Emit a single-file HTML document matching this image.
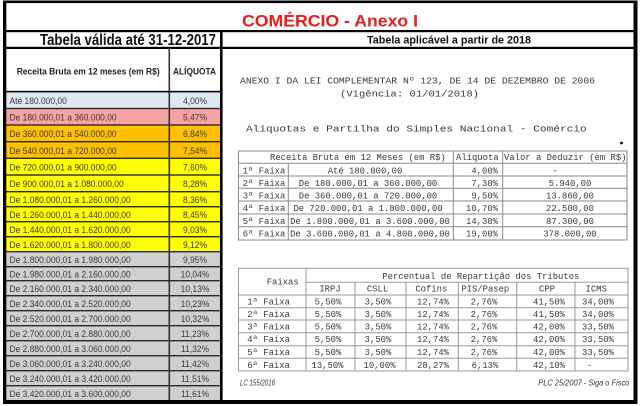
<!DOCTYPE html>
<html><head><meta charset="utf-8"><style>
html,body{margin:0;padding:0;background:#fff;}
body{width:640px;height:406px;overflow:hidden;}
svg{display:block;}
.s{font-family:"Liberation Sans",Arial,sans-serif;}
.m{font-family:"Liberation Mono","Courier New",monospace;font-size:8.9px;fill:#3a3a3a;}
.d{font-family:"Liberation Sans",Arial,sans-serif;font-size:9.3px;fill:#3a3a3a;}
</style></head><body>
<svg width="640" height="406" viewBox="0 0 640 406" xmlns="http://www.w3.org/2000/svg">
<rect x="0" y="0" width="640" height="406" fill="#fff"/>

<!-- left table row fills -->
<g>
<rect x="6" y="92" width="214" height="16.5" fill="#dde8f3"/>
<rect x="6" y="108.5" width="214" height="16.5" fill="#f5a3a5"/>
<rect x="6" y="125" width="214" height="16.7" fill="#ffc000"/>
<rect x="6" y="141.7" width="214" height="16.6" fill="#ffc000"/>
<rect x="6" y="158.3" width="214" height="93.4" fill="#ffff00"/>
<rect x="6" y="251.7" width="214" height="148.3" fill="#d0d0d0"/>
</g>

<!-- row lines -->
<g fill="#2a2a2a">
<rect x="6" y="107.8" width="214" height="1.4"/>
<rect x="6" y="124.3" width="214" height="1.4"/>
<rect x="6" y="141" width="214" height="1.4"/>
<rect x="6" y="157.6" width="214" height="1.4"/>
<rect x="6" y="174.3" width="214" height="1.4"/>
<rect x="6" y="191" width="214" height="1.4"/>
<rect x="6" y="206" width="214" height="1.4"/>
<rect x="6" y="221" width="214" height="1.4"/>
<rect x="6" y="236" width="214" height="1.4"/>
<rect x="6" y="251" width="214" height="1.4"/>
<rect x="6" y="266" width="214" height="1.4"/>
<rect x="6" y="280" width="214" height="1.4"/>
<rect x="6" y="295" width="214" height="1.4"/>
<rect x="6" y="310" width="214" height="1.4"/>
<rect x="6" y="325" width="214" height="1.4"/>
<rect x="6" y="340" width="214" height="1.4"/>
<rect x="6" y="355" width="214" height="1.4"/>
<rect x="6" y="370" width="214" height="1.4"/>
<rect x="6" y="385" width="214" height="1.4"/>
<rect x="168.5" y="49" width="1.6" height="352" fill="#333"/>
</g>

<!-- frame -->
<g fill="#000">
<rect x="3" y="0.5" width="634.5" height="2.6"/>
<rect x="3" y="0.5" width="3.3" height="403.5"/>
<rect x="633.5" y="0.5" width="4" height="403.5"/>
<rect x="3" y="400" width="634.5" height="4"/>
<rect x="3" y="30" width="634.5" height="2.2"/>
<rect x="3" y="46.8" width="634.5" height="2.2"/>
<rect x="220" y="30" width="2.6" height="372"/>
<rect x="3" y="90.8" width="218" height="1.6"/>
</g>

<!-- titles -->
<text class="s" x="242" y="26.7" font-weight="bold" font-size="16.3" fill="#e3201c" textLength="176" lengthAdjust="spacingAndGlyphs">COMÉRCIO - Anexo I</text>
<text class="s" x="40" y="45" font-weight="bold" font-size="15.5" fill="#111" textLength="176" lengthAdjust="spacingAndGlyphs">Tabela válida até 31-12-2017</text>
<text class="s" x="367" y="43.5" font-weight="bold" font-size="10.7" fill="#111" textLength="164" lengthAdjust="spacingAndGlyphs">Tabela aplicável a partir de 2018</text>

<!-- left header -->
<text class="s" x="16.7" y="74.5" font-weight="bold" font-size="9.3" fill="#222" textLength="143" lengthAdjust="spacingAndGlyphs">Receita Bruta em 12 meses (em R$)</text>
<text class="s" x="173" y="74.5" font-weight="bold" font-size="9.3" fill="#222" textLength="43" lengthAdjust="spacingAndGlyphs">ALÍQUOTA</text>

<!-- left rows text -->
<g class="d">
<text transform="translate(9.5 104) scale(.91 1)">Até 180.000,00</text>
<text transform="translate(9.5 120.5) scale(.91 1)">De 180.000,01 a 360.000,00</text>
<text transform="translate(9.5 137.1) scale(.91 1)">De 360.000,01 a 540.000,00</text>
<text transform="translate(9.5 153.8) scale(.91 1)">De 540.000,01 a 720.000,00</text>
<text transform="translate(9.5 170.4) scale(.91 1)">De 720.000,01 a 900.000,00</text>
<text transform="translate(9.5 187.1) scale(.91 1)">De 900.000,01 a 1.080.000,00</text>
<text transform="translate(9.5 203) scale(.91 1)">De 1.080.000,01 a 1.260.000,00</text>
<text transform="translate(9.5 218) scale(.91 1)">De 1.260.000,01 a 1.440.000,00</text>
<text transform="translate(9.5 233) scale(.91 1)">De 1.440.000,01 a 1.620.000,00</text>
<text transform="translate(9.5 248) scale(.91 1)">De 1.620.000,01 a 1.800.000,00</text>
<text transform="translate(9.5 263) scale(.91 1)">De 1.800.000,01 a 1.980.000,00</text>
<text transform="translate(9.5 277.7) scale(.91 1)">De 1.980.000,01 a 2.160.000,00</text>
<text transform="translate(9.5 292.2) scale(.91 1)">De 2.160.000,01 a 2.340.000,00</text>
<text transform="translate(9.5 307.2) scale(.91 1)">De 2.340.000,01 a 2.520.000,00</text>
<text transform="translate(9.5 322.2) scale(.91 1)">De 2.520.000,01 a 2.700.000,00</text>
<text transform="translate(9.5 337.2) scale(.91 1)">De 2.700.000,01 a 2.880.000,00</text>
<text transform="translate(9.5 352.2) scale(.91 1)">De 2.880.000,01 a 3.060.000,00</text>
<text transform="translate(9.5 367.2) scale(.91 1)">De 3.060.000,01 a 3.240.000,00</text>
<text transform="translate(9.5 382.2) scale(.91 1)">De 3.240.000,01 a 3.420.000,00</text>
<text transform="translate(9.5 397) scale(.91 1)">De 3.420.000,01 a 3.600.000,00</text>
</g>
<g class="d" text-anchor="middle">
<text transform="translate(195 104) scale(.91 1)">4,00%</text>
<text transform="translate(195 120.5) scale(.91 1)">5,47%</text>
<text transform="translate(195 137.1) scale(.91 1)">6,84%</text>
<text transform="translate(195 153.8) scale(.91 1)">7,54%</text>
<text transform="translate(195 170.4) scale(.91 1)">7,60%</text>
<text transform="translate(195 187.1) scale(.91 1)">8,28%</text>
<text transform="translate(195 203) scale(.91 1)">8,36%</text>
<text transform="translate(195 218) scale(.91 1)">8,45%</text>
<text transform="translate(195 233) scale(.91 1)">9,03%</text>
<text transform="translate(195 248) scale(.91 1)">9,12%</text>
<text transform="translate(195 263) scale(.91 1)">9,95%</text>
<text transform="translate(195 277.7) scale(.91 1)">10,04%</text>
<text transform="translate(195 292.2) scale(.91 1)">10,13%</text>
<text transform="translate(195 307.2) scale(.91 1)">10,23%</text>
<text transform="translate(195 322.2) scale(.91 1)">10,32%</text>
<text transform="translate(195 337.2) scale(.91 1)">11,23%</text>
<text transform="translate(195 352.2) scale(.91 1)">11,32%</text>
<text transform="translate(195 367.2) scale(.91 1)">11,42%</text>
<text transform="translate(195 382.2) scale(.91 1)">11,51%</text>
<text transform="translate(195 397) scale(.91 1)">11,61%</text>
</g>

<!-- right section headings -->
<text class="m" x="240" y="83.3" font-size="10.5" textLength="355" lengthAdjust="spacingAndGlyphs">ANEXO I DA LEI COMPLEMENTAR Nº 123, DE 14 DE DEZEMBRO DE 2006</text>
<text class="m" x="340" y="96.5" font-size="10.5" textLength="139" lengthAdjust="spacingAndGlyphs">(Vigência: 01/01/2018)</text>
<text class="m" x="246" y="131.5" font-size="11" textLength="340.7" lengthAdjust="spacingAndGlyphs">Alíquotas e Partilha do Simples Nacional - Comércio</text>
<circle cx="621.5" cy="143" r="1.4" fill="#000"/>

<!-- table 1 lines -->
<g stroke="#8a8a8a" stroke-width="1" fill="none">
<rect x="238.5" y="151" width="388.5" height="89"/>
<line x1="238.5" y1="163.3" x2="627" y2="163.3"/>
<line x1="238.5" y1="176" x2="627" y2="176"/>
<line x1="238.5" y1="188.3" x2="627" y2="188.3"/>
<line x1="238.5" y1="201" x2="627" y2="201"/>
<line x1="238.5" y1="214" x2="627" y2="214"/>
<line x1="238.5" y1="226.7" x2="627" y2="226.7"/>
<line x1="288.3" y1="163.3" x2="288.3" y2="240"/>
<line x1="453.3" y1="151" x2="453.3" y2="240"/>
<line x1="502.7" y1="151" x2="502.7" y2="240"/>
</g>
<g class="m">
<text x="270" y="160">Receita Bruta em 12 Meses (em R$)</text>
<text x="456" y="160">Alíquota</text>
<text x="504" y="160">Valor a Deduzir (em R$)</text>
<text x="242.7" y="173.3">1ª Faixa</text>
<text x="242.7" y="186">2ª Faixa</text>
<text x="242.7" y="198.3">3ª Faixa</text>
<text x="242.7" y="211">4ª Faixa</text>
<text x="242.7" y="224">5ª Faixa</text>
<text x="242.7" y="236.7">6ª Faixa</text>
</g>
<g class="m" text-anchor="middle">
<text x="365" y="173.3">Até 180.000,00</text>
<text x="368" y="186">De 180.000,01 a 360.000,00</text>
<text x="368" y="198.3">De 360.000,01 a 720.000,00</text>
<text x="368" y="211">De 720.000,01 a 1.800.000,00</text>
<text x="370" y="224">De 1.800.000,01 a 3.600.000,00</text>
<text x="370" y="236.7">De 3.600.000,01 a 4.800.000,00</text>
<text x="555" y="173.3">-</text>
<text x="570" y="186">5.940,00</text>
<text x="570" y="198.3">13.860,00</text>
<text x="570" y="211">22.500,00</text>
<text x="570" y="224">87.300,00</text>
<text x="570" y="236.7">378.000,00</text>
</g>
<g class="m" text-anchor="end">
<text x="498" y="173.3">4,00%</text>
<text x="498" y="186">7,30%</text>
<text x="498" y="198.3">9,50%</text>
<text x="498" y="211">10,70%</text>
<text x="498" y="224">14,30%</text>
<text x="498" y="236.7">19,00%</text>
</g>

<!-- table 2 lines -->
<g stroke="#9a9a9a" stroke-width="1" fill="none">
<rect x="238.5" y="268.3" width="389.5" height="102.7"/>
<line x1="306" y1="282.3" x2="628" y2="282.3"/>
<line x1="238.5" y1="295" x2="628" y2="295"/>
<line x1="238.5" y1="307.7" x2="628" y2="307.7"/>
<line x1="238.5" y1="320" x2="628" y2="320"/>
<line x1="238.5" y1="332.7" x2="628" y2="332.7"/>
<line x1="238.5" y1="345.7" x2="628" y2="345.7"/>
<line x1="238.5" y1="358.3" x2="628" y2="358.3"/>
<line x1="306" y1="268.3" x2="306" y2="371"/>
<line x1="355" y1="282.3" x2="355" y2="371"/>
<line x1="406" y1="282.3" x2="406" y2="371"/>
<line x1="458.3" y1="282.3" x2="458.3" y2="371"/>
<line x1="516.7" y1="282.3" x2="516.7" y2="371"/>
<line x1="575" y1="282.3" x2="575" y2="371"/>
</g>
<g class="m">
<text x="266.7" y="284.5">Faixas</text>
<text x="382.3" y="279">Percentual de Repartição dos Tributos</text>
<text x="247.3" y="304.5">1ª Faixa</text>
<text x="247.3" y="317.2">2ª Faixa</text>
<text x="247.3" y="329.5">3ª Faixa</text>
<text x="247.3" y="342.2">4ª Faixa</text>
<text x="247.3" y="355.2">5ª Faixa</text>
<text x="247.3" y="367.8">6ª Faixa</text>
</g>
<g class="m" text-anchor="middle">
<text x="330" y="291.7">IRPJ</text>
<text x="377.5" y="291.7">CSLL</text>
<text x="431.3" y="291.7">Cofins</text>
<text x="485.3" y="291.7">PIS/Pasep</text>
<text x="547" y="291.7">CPP</text>
<text x="596.2" y="291.7">ICMS</text>

<text x="328" y="304.5">5,50%</text><text x="378" y="304.5">3,50%</text><text x="433" y="304.5">12,74%</text><text x="484" y="304.5">2,76%</text><text x="549" y="304.5">41,50%</text><text x="598" y="304.5">34,00%</text>
<text x="328" y="317.2">5,50%</text><text x="378" y="317.2">3,50%</text><text x="433" y="317.2">12,74%</text><text x="484" y="317.2">2,76%</text><text x="549" y="317.2">41,50%</text><text x="598" y="317.2">34,00%</text>
<text x="328" y="329.5">5,50%</text><text x="378" y="329.5">3,50%</text><text x="433" y="329.5">12,74%</text><text x="484" y="329.5">2,76%</text><text x="549" y="329.5">42,00%</text><text x="598" y="329.5">33,50%</text>
<text x="328" y="342.2">5,50%</text><text x="378" y="342.2">3,50%</text><text x="433" y="342.2">12,74%</text><text x="484" y="342.2">2,76%</text><text x="549" y="342.2">42,00%</text><text x="598" y="342.2">33,50%</text>
<text x="328" y="355.2">5,50%</text><text x="378" y="355.2">3,50%</text><text x="433" y="355.2">12,74%</text><text x="484" y="355.2">2,76%</text><text x="549" y="355.2">42,00%</text><text x="598" y="355.2">33,50%</text>
<text x="327.5" y="367.8">13,50%</text><text x="379.5" y="367.8">10,00%</text><text x="433" y="367.8">28,27%</text><text x="485" y="367.8">6,13%</text><text x="549" y="367.8">42,10%</text><text x="589.5" y="367.8">-</text>
</g>

<!-- footers -->
<text class="s" x="240" y="385.5" font-style="italic" font-size="8.6" fill="#333" textLength="35" lengthAdjust="spacingAndGlyphs">LC 155/2016</text>
<text class="s" x="538.3" y="385.5" font-style="italic" font-size="8.6" fill="#333" textLength="91" lengthAdjust="spacingAndGlyphs">PLC 25/2007 - Siga o Fisco</text>
</svg>
</body></html>
